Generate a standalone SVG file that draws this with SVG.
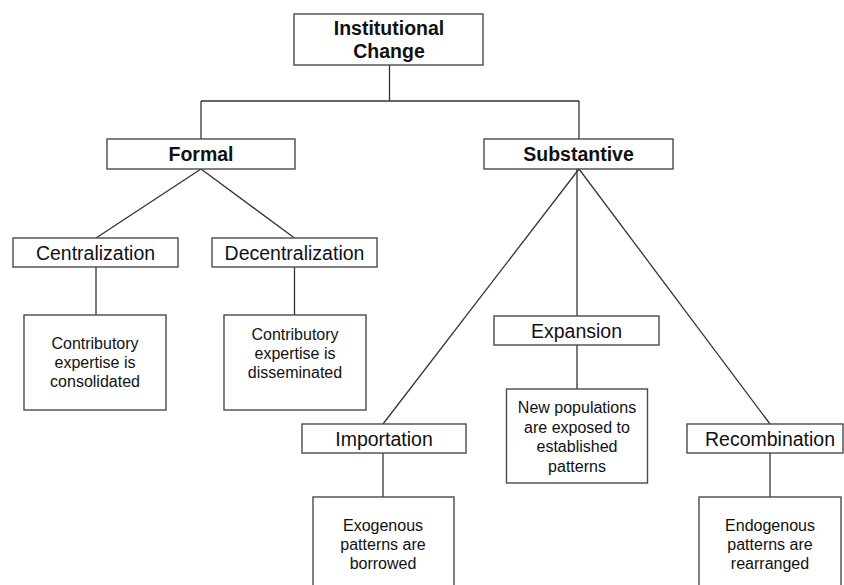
<svg xmlns="http://www.w3.org/2000/svg" width="844" height="585" viewBox="0 0 844 585">
<style>
rect{fill:#fff;stroke:#4a4a4a;stroke-width:1.4}
.c line{stroke:#333;stroke-width:1.3}
text{font-family:"Liberation Sans",Arial,sans-serif;fill:#111;text-anchor:middle}
.b{font-weight:bold;font-size:19.5px}
.l{font-size:19.5px}
.s{font-size:16px}
</style>
<rect x="0" y="0" width="844" height="585" style="stroke:none"/>
<g class="c" id="connectors">
<line x1="389.5" y1="65" x2="389.5" y2="101"/>
<line x1="201" y1="101" x2="579" y2="101"/>
<line x1="201" y1="101" x2="201" y2="139"/>
<line x1="579" y1="101" x2="579" y2="139"/>
<line x1="201" y1="169" x2="96" y2="238"/>
<line x1="201" y1="169" x2="294.5" y2="238"/>
<line x1="96" y1="267" x2="96" y2="315"/>
<line x1="294.5" y1="267" x2="294.5" y2="315"/>
<line x1="579" y1="169" x2="383" y2="424"/>
<line x1="577" y1="169" x2="577" y2="316"/>
<line x1="579" y1="169" x2="770" y2="424"/>
<line x1="577" y1="345" x2="577" y2="389"/>
<line x1="383" y1="453" x2="383" y2="497"/>
<line x1="770" y1="453" x2="770" y2="497"/>
</g>
<g id="institutional-change"><rect x="294" y="14" width="189" height="51"/><text class="b" x="389" y="35">Institutional</text><text class="b" x="389" y="58">Change</text></g>
<g id="formal"><rect x="107" y="139" width="188" height="30"/><text class="b" x="201" y="161">Formal</text></g>
<g id="substantive"><rect x="484" y="139" width="189" height="30"/><text class="b" x="578.5" y="161">Substantive</text></g>
<g id="centralization"><rect x="13" y="238" width="165" height="29"/><text class="l" x="95.5" y="259.5">Centralization</text></g>
<g id="decentralization"><rect x="212" y="238" width="165" height="29"/><text class="l" x="294.5" y="259.5">Decentralization</text></g>
<g id="consolidated"><rect x="24" y="315" width="142" height="95"/><text class="s" x="95" y="349">Contributory</text><text class="s" x="95" y="368">expertise is</text><text class="s" x="95" y="387">consolidated</text></g>
<g id="disseminated"><rect x="224" y="315" width="142" height="95"/><text class="s" x="295" y="340">Contributory</text><text class="s" x="295" y="359">expertise is</text><text class="s" x="295" y="378">disseminated</text></g>
<g id="expansion"><rect x="494" y="316" width="165" height="29"/><text class="l" x="576.5" y="337.5">Expansion</text></g>
<g id="new-populations"><rect x="506.5" y="389" width="141" height="94"/><text class="s" x="577" y="413">New populations</text><text class="s" x="577" y="432.5">are exposed to</text><text class="s" x="577" y="452">established</text><text class="s" x="577" y="471.5">patterns</text></g>
<g id="importation"><rect x="302" y="424" width="164" height="29"/><text class="l" x="384" y="445.5">Importation</text></g>
<g id="recombination"><rect x="687" y="424" width="156" height="29"/><text class="l" x="770" y="445.5">Recombination</text></g>
<g id="exogenous"><rect x="313" y="497" width="141" height="100"/><text class="s" x="383" y="531">Exogenous</text><text class="s" x="383" y="550">patterns are</text><text class="s" x="383" y="569">borrowed</text></g>
<g id="endogenous"><rect x="699" y="497" width="142" height="100"/><text class="s" x="770" y="531">Endogenous</text><text class="s" x="770" y="550">patterns are</text><text class="s" x="770" y="569">rearranged</text></g>
</svg>
